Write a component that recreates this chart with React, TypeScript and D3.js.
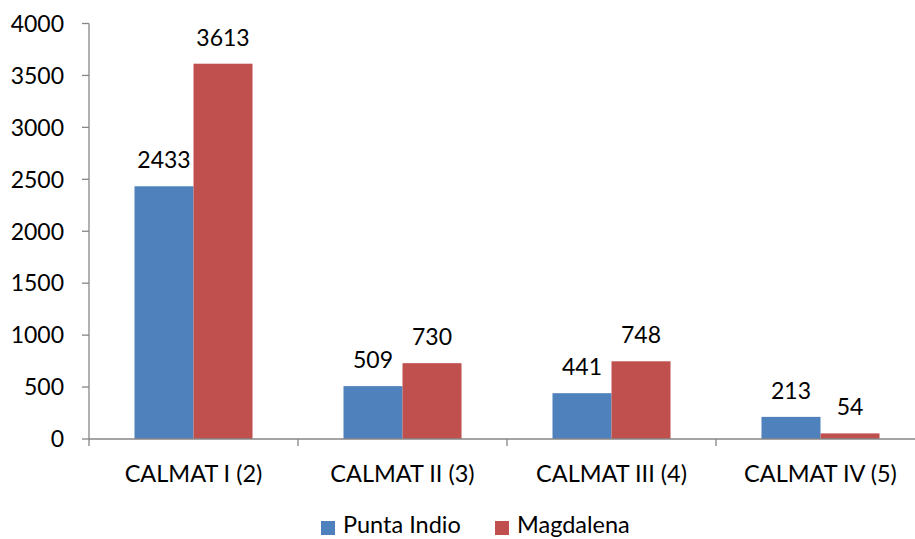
import React from "react";
import * as d3 from "d3";

const categories = ["CALMAT I (2)", "CALMAT II (3)", "CALMAT III (4)", "CALMAT IV (5)"];
const seriesNames = ["Punta Indio", "Magdalena"];
const puntaIndio = [2433, 509, 441, 213];
const magdalena = [3613, 730, 748, 54];
const yTicks = [0, 500, 1000, 1500, 2000, 2500, 3000, 3500, 4000];
const colors = ["#4F81BD", "#C0504D"];

const W = 915;
const H = 539;
const left = 89;
const right = 925;
const top = 23.5;
const bottom = 439;
const font = "Lato, 'Open Sans', sans-serif";

export default function App() {
  const series = [puntaIndio, magdalena];
  const x = d3.scaleBand<string>().domain(categories).range([left, right]).paddingInner(0).paddingOuter(0);
  const inner = d3.scaleBand<string>().domain(seriesNames).range([0, x.bandwidth()]).paddingInner(0).paddingOuter(0.771);
  const y = d3.scaleLinear().domain([0, 4000]).range([bottom, top]);
  const axisColor = "#868686";

  return (
    <svg width={W} height={H} style={{ position: "absolute", left: 0, top: 0, overflow: "hidden" }}>
      <rect x={0} y={0} width={W} height={H} fill="#fff" />
      {/* bars */}
      {categories.map((c, i) =>
        series.map((s, j) => (
          <rect
            key={c + j}
            x={(x(c) ?? 0) + (inner(seriesNames[j]) ?? 0)}
            y={y(s[i])}
            width={inner.bandwidth()}
            height={bottom - y(s[i])}
            fill={colors[j]}
          />
        ))
      )}
      {/* y axis */}
      <line x1={left} x2={left} y1={top} y2={bottom} stroke={axisColor} strokeWidth={1.3} />
      {yTicks.map((t) => (
        <g key={t}>
          <line x1={left - 7} x2={left} y1={y(t)} y2={y(t)} stroke={axisColor} strokeWidth={1.3} />
          <text x={64} y={y(t)} dy="0.36em" textAnchor="end" fontFamily={font} fontSize={23} fill="#000">
            {t}
          </text>
        </g>
      ))}
      {/* x axis */}
      <line x1={left} x2={right} y1={bottom} y2={bottom} stroke={axisColor} strokeWidth={1.3} />
      {[...categories.map((c) => x(c) ?? 0), right].map((v, i) => (
        <line key={i} x1={v} x2={v} y1={bottom} y2={bottom + 7} stroke={axisColor} strokeWidth={1.3} />
      ))}
      {categories.map((c) => (
        <text
          key={c}
          x={(x(c) ?? 0) + x.bandwidth() / 2}
          y={482}
          textAnchor="middle"
          fontFamily={font}
          fontSize={23.5}
          fill="#000"
        >
          {c}
        </text>
      ))}
      {/* data labels */}
      {categories.map((c, i) =>
        series.map((s, j) => (
          <text
            key={"l" + c + j}
            x={(x(c) ?? 0) + (inner(seriesNames[j]) ?? 0) + inner.bandwidth() / 2}
            y={y(s[i]) - 18}
            textAnchor="middle"
            fontFamily={font}
            fontSize={23}
            fill="#000"
          >
            {s[i]}
          </text>
        ))
      )}
      {/* legend */}
      {seriesNames.map((n, j) => {
        const lx = [321, 495][j];
        return (
          <g key={n}>
            <rect x={lx} y={521} width={14} height={14} fill={colors[j]} />
            <text x={lx + 22} y={533} fontFamily={font} fontSize={23.5} fill="#000">
              {n}
            </text>
          </g>
        );
      })}
    </svg>
  );
}
